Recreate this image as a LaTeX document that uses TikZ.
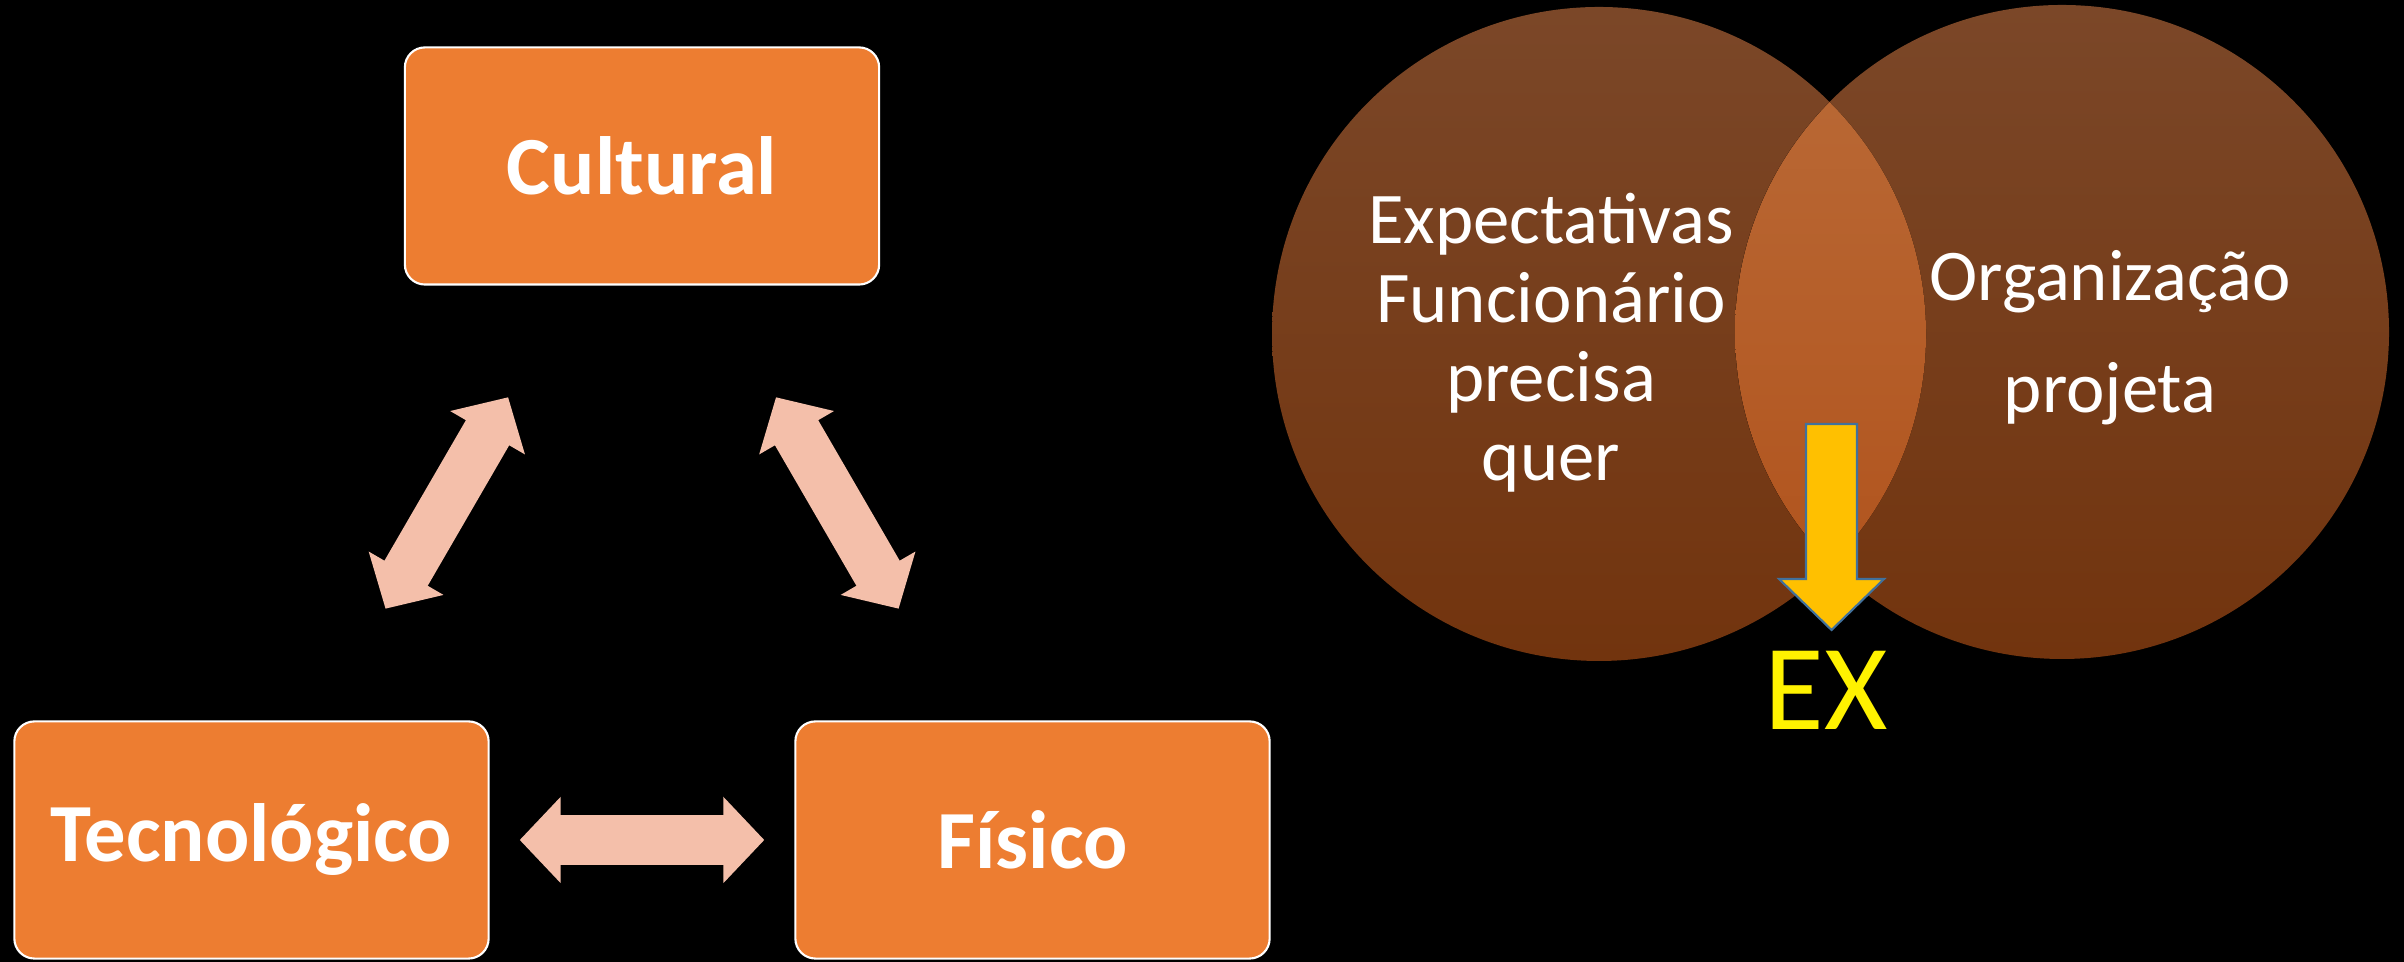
\documentclass[tikz,border=0pt]{standalone}
\usepackage{fontspec}
\setmainfont{Carlito}
\usetikzlibrary{arrows.meta}
\definecolor{boxorange}{HTML}{ED7D31}
\definecolor{arrowpink}{HTML}{F4BFAA}
\definecolor{circtop}{HTML}{7B4728}
\definecolor{circbot}{HTML}{72340E}
\definecolor{lenstop}{HTML}{BA6B38}
\definecolor{lensbot}{HTML}{B0511A}
\definecolor{exgold}{HTML}{FFC000}
\definecolor{exblue}{HTML}{41719C}

\begin{document}
\begin{tikzpicture}[x=0.01cm,y=0.01cm]
\tikzset{box/.style={draw=white, line width=0.6pt, fill=boxorange, rounded corners=0.2cm, minimum width=4.74cm, minimum height=2.37cm, text=white, font=\bfseries\fontsize{23.5}{28}\selectfont}}
\tikzset{dblarrow/.style={draw=arrowpink, line width=0.5cm, <->, >={Triangle[length=0.41cm,width=0.84cm]}}}
\tikzset{circtext/.style={text=white, align=center, anchor=north, inner sep=0pt}}
\fill[black] (0,0) rectangle (2404,962);
\useasboundingbox (0,0) rectangle (2404,962);
% triangle of boxes
\node[box] (cult) at (642,796) {Cultural};
\node[box] (tec) at (251.5,122) {Tecnológico};
\node[box] (fis) at (1032.5,122) {Físico};
\draw[dblarrow, shorten <=1.29cm, shorten >=1.29cm] (tec) -- (cult);
\draw[dblarrow, shorten <=1.29cm, shorten >=1.29cm] (cult) -- (fis);
\draw[dblarrow, shorten <=0.3cm, shorten >=0.3cm] (tec) -- (fis);
% venn
\fill[top color=circtop, bottom color=circbot] (1599,628) circle (327);
\fill[top color=circtop, bottom color=circbot] (2062,630) circle (327);
\begin{scope}
\clip (1599,628) circle (327);
\fill[top color=lenstop, bottom color=lensbot] (2062,630) circle (327);
\end{scope}
\node[circtext, font=\fontsize{20.7}{22.5}\selectfont] (emptext) at (1551,770) {Expectativas\\Funcionário\\precisa\\quer};
\node[circtext, font=\fontsize{20.7}{31.9}\selectfont] (orgtext) at (2110,712) {Organização\\projeta};
\draw[fill=exgold, draw=exblue, line width=0.6pt] (1806,538) -- (1857,538) -- (1857,383) -- (1884,383) -- (1831.5,332) -- (1779,383) -- (1806,383) -- cycle;
\node[text=yellow, font=\fontsize{34.7}{40}\selectfont, anchor=base, inner sep=0pt] (ex) at (1826,232) {EX};
\end{tikzpicture}
\end{document}
